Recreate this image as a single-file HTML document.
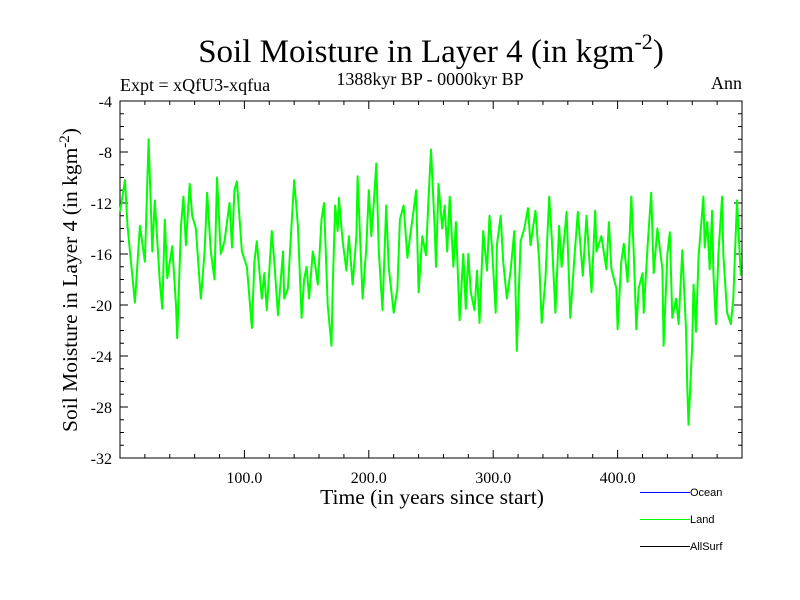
<!DOCTYPE html>
<html><head><meta charset="utf-8"><style>
body{margin:0;background:#fff;}
svg{display:block;font-family:"Liberation Serif",serif;}
</style></head><body>
<svg id="chart" width="800" height="600">
<text x="431" y="62" font-size="33" text-anchor="middle">Soil Moisture in Layer 4 (in kgm<tspan dy="-13" font-size="22">-2</tspan><tspan dy="13">)</tspan></text>
<text x="430" y="85" font-size="18" text-anchor="middle">1388kyr BP - 0000kyr BP</text>
<text x="120" y="91" font-size="18">Expt = xQfU3-xqfua</text>
<text x="742" y="89" font-size="18" text-anchor="end">Ann</text>
<text transform="translate(77,280) rotate(-90)" font-size="21.5" text-anchor="middle">Soil Moisture in Layer 4 (in kgm<tspan dy="-8" font-size="15">-2</tspan><tspan dy="8">)</tspan></text>
<text x="432" y="504" font-size="21.5" text-anchor="middle">Time (in years since start)</text>
<g id="axes"></g>
<g id="series"></g>
<g font-family="Liberation Sans, sans-serif" font-size="11" shape-rendering="crispEdges">
<line x1="640" y1="492.5" x2="690" y2="492.5" stroke="#0000ff"/>
<text x="690" y="496">Ocean</text>
<line x1="640" y1="519.5" x2="690" y2="519.5" stroke="#00ff00"/>
<text x="690" y="523">Land</text>
<line x1="640" y1="546.5" x2="690" y2="546.5" stroke="#000"/>
<text x="690" y="550">AllSurf</text>
</g>
</svg>
<script>
const years=[0,4,6,12,16,20,23,26,28,32,34,36,38,42,45,46,49,51,53,56,58,61,64,65,68,70,73,76,78,81,84,88,90,92,94,98,102,106,108,110,114,116,118,
122,124,127,131,132,135,138,140,143,146,148,150,152,155,157,159,162,164,167,170,171,173,175,176,179,182,184,187,190,191,195,198,200,202,204,206,208,211,214,216,220,223,225,228,231,234,236,238,240,243,
246,248,250,253,254,256,259,261,263,265,268,270,273,276,278,280,282,285,287,289,292,295,297,299,302,303,306,308,311,314,317,319,322,325,328,330,334,337,339,342,345,347,350,353,355,359,362,365,368,
372,375,379,382,383,387,391,393,395,399,400,403,405,408,411,413,415,417,420,421,424,427,429,432,436,437,440,442,444,447,449,452,455,456,457,460,461,463,465,469,470,472,474,476,477,479,481,484,485,488,491,493,496,499];
const landValues=[-12.7,-10.2,-13.8,-19.8,-13.8,-16.6,-7,-15.8,-11.8,-18.2,-20.3,-13.3,-17.9,-15.4,-20,-22.6,-13.8,-11.5,-15.3,-10.5,-13,-14,-18.2,-19.5,-15.8,-11.2,-15.8,-18,-10,-16,-15,-12,-15.5,-11,-10.3,-15.8,-17,-21.8,-16.6,-15,-19.5,-17.5,-20.4,
-14.2,-16.6,-20.8,-15.8,-19.5,-18.7,-13.5,-10.2,-13.8,-21,-18,-17,-19.5,-15.8,-16.9,-18.4,-13.3,-12,-20,-23.2,-18.7,-12.2,-14.2,-11.6,-15,-17.3,-14.6,-18.4,-14.6,-9.9,-19.5,-15.5,-11,-14.6,-12,-8.9,-15.8,-20.4,-12.2,-17,-20.6,-18.7,-13.3,-12.2,-16.3,-14,-12.6,-11,-19,-14.6,
-16.1,-11.7,-7.8,-14,-17,-10.5,-14,-12.2,-15.8,-11.5,-17,-13.5,-21.2,-16,-20.3,-16,-19,-20.4,-17.3,-21.4,-14.2,-17.3,-13,-15.5,-20.6,-15.3,-13,-16.6,-19.5,-17.3,-14.2,-23.6,-15,-14,-12.4,-15.3,-12.6,-16.6,-21.4,-18,-11.5,-14.6,-20.6,-13.8,-17,-12.7,-21,-16.6,-12.7,
-17.7,-13,-19,-12.6,-15.8,-14.6,-17.2,-13.5,-17.2,-18.7,-21.9,-16.6,-15.2,-18.2,-11.5,-16,-21.9,-18.7,-17.5,-20.6,-15.5,-11.2,-17.5,-14,-17.2,-23.2,-16,-14.3,-21,-19.5,-21.5,-15.7,-21.9,-26.5,-29.4,-23.2,-18.4,-22.1,-16.3,-11.5,-15.5,-13.5,-17.2,-12.6,-17.5,-21.5,-16,-11.5,-16,-20.6,-21.5,-19.5,-11.8,-17.7];
const yTicks=[-4,-8,-12,-16,-20,-24,-28,-32];
const xTicks=[100,200,300,400];
const xTickLabels=["100.0","200.0","300.0","400.0"];
const NS='http://www.w3.org/2000/svg';
const L=120,R=742,T=101,B=458,xMin=0,xMax=500,yMin=-32,yMax=-4;
const sx=v=>L+(v-xMin)/(xMax-xMin)*(R-L);
const sy=v=>B-(v-yMin)/(yMax-yMin)*(B-T);
const axes=document.getElementById('axes');
function mk(tag,attrs,parent){const e=document.createElementNS(NS,tag);for(const k in attrs)e.setAttribute(k,attrs[k]);parent.appendChild(e);return e;}
const frame=mk('rect',{x:L,y:T,width:R-L,height:B-T,fill:'none',stroke:'#000','stroke-width':1},axes);


for(let v=yMin;v<=yMax;v+=1){
  const major=(v%4===0);const len=major?8:4;const y=sy(v);
  const t1=mk('line',{x1:L,y1:y,x2:L+len,y2:y,stroke:'#000'},axes);
  
  
  const t2=mk('line',{x1:R,y1:y,x2:R-len,y2:y,stroke:'#000'},axes);
  
  
}
yTicks.forEach(v=>{
  const t=mk('text',{x:L-8,y:sy(v)+6,'font-size':16,'text-anchor':'end'},axes);t.textContent=String(v);
  
  
});
for(let v=20;v<xMax;v+=20){
  const major=(v%100===0);const len=major?8:4;const x=sx(v);
  const t1=mk('line',{x1:x,y1:B,x2:x,y2:B-len,stroke:'#000'},axes);
  
  
  const t2=mk('line',{x1:x,y1:T,x2:x,y2:T+len,stroke:'#000'},axes);
  
  
}
xTicks.forEach((v,i)=>{
  const t=mk('text',{x:sx(v),y:B+25,'font-size':16,'text-anchor':'middle'},axes);t.textContent=xTickLabels[i];
  
  
});
const pts=years.map((yr,i)=>sx(yr).toFixed(1)+','+sy(landValues[i]).toFixed(1)).join(' ');
const line=mk('polyline',{points:pts,fill:'none',stroke:'#00ff00','stroke-width':2,'stroke-linejoin':'round'},document.getElementById('series'));


</script>
</body></html>
